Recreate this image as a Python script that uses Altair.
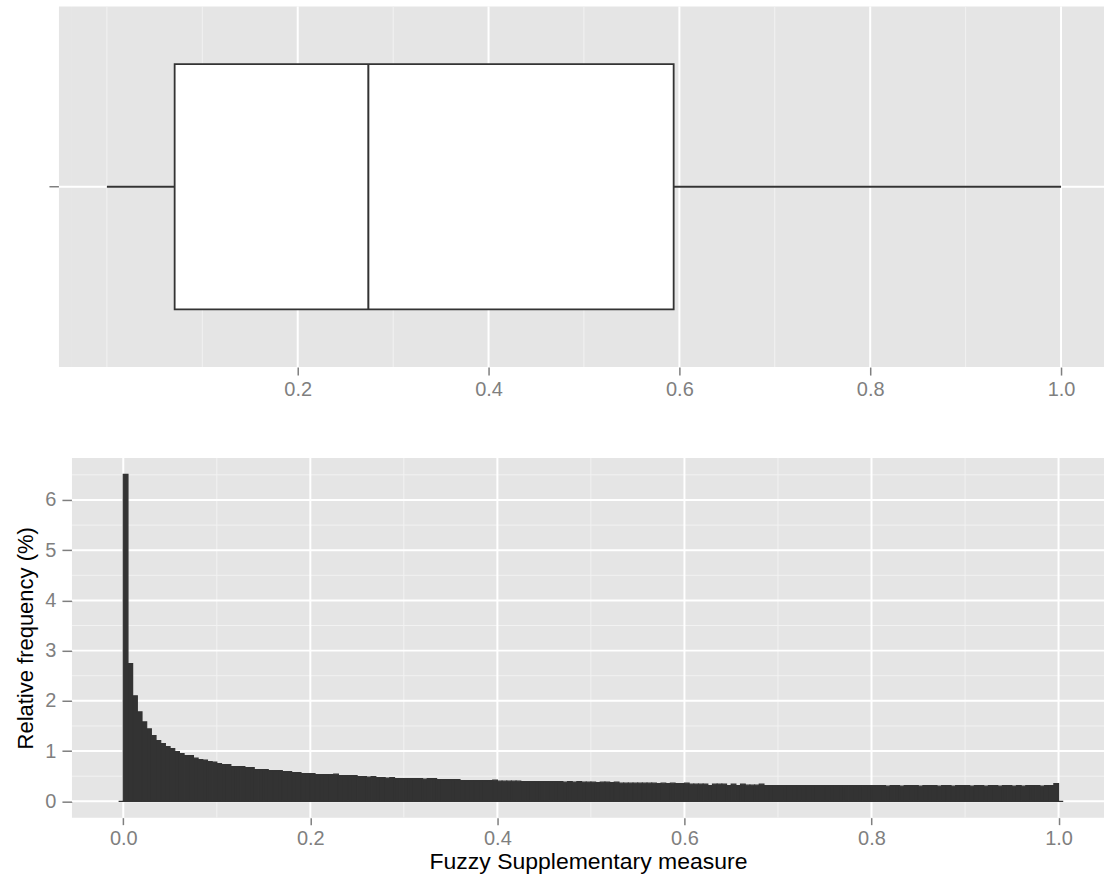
import altair as alt
import pandas as pd

# ---------------- data ----------------
bin_width = 0.005
rel_freq = [
    6.51, 2.74, 2.10, 1.78, 1.58, 1.44, 1.31, 1.21, 1.15, 1.09,
    1.05, 0.99, 0.95, 0.91, 0.91, 0.86, 0.83, 0.82, 0.79, 0.78,
    0.75, 0.73, 0.73, 0.69, 0.69, 0.69, 0.67, 0.67, 0.63, 0.63,
    0.63, 0.61, 0.61, 0.61, 0.59, 0.59, 0.57, 0.57, 0.55, 0.55,
    0.55, 0.53, 0.53, 0.53, 0.53, 0.54, 0.51, 0.51, 0.51, 0.51,
    0.49, 0.49, 0.48, 0.49, 0.47, 0.47, 0.46, 0.47, 0.45, 0.45,
    0.45, 0.45, 0.45, 0.45, 0.44, 0.45, 0.45, 0.43, 0.43, 0.43,
    0.43, 0.43, 0.41, 0.41, 0.41, 0.41, 0.41, 0.41, 0.41, 0.42,
    0.40, 0.40, 0.40, 0.40, 0.40, 0.39, 0.39, 0.39, 0.39, 0.39,
    0.39, 0.39, 0.39, 0.39, 0.38, 0.39, 0.38, 0.39, 0.38, 0.38,
    0.38, 0.37, 0.38, 0.38, 0.37, 0.38, 0.36, 0.36, 0.36, 0.36,
    0.36, 0.36, 0.36, 0.36, 0.35, 0.36, 0.35, 0.36, 0.35, 0.35,
    0.36, 0.34, 0.34, 0.34, 0.34, 0.31, 0.34, 0.34, 0.34, 0.31,
    0.34, 0.31, 0.34, 0.32, 0.32, 0.32, 0.34, 0.31, 0.31, 0.31,
    0.31, 0.31, 0.31, 0.31, 0.31, 0.31, 0.31, 0.31, 0.31, 0.31,
    0.31, 0.31, 0.31, 0.31, 0.31, 0.31, 0.31, 0.31, 0.31, 0.31,
    0.31, 0.31, 0.31, 0.30, 0.31, 0.31, 0.30, 0.31, 0.31, 0.31,
    0.30, 0.31, 0.31, 0.31, 0.30, 0.31, 0.31, 0.30, 0.31, 0.31,
    0.31, 0.30, 0.31, 0.31, 0.30, 0.31, 0.31, 0.30, 0.31, 0.31,
    0.30, 0.31, 0.30, 0.31, 0.31, 0.31, 0.30, 0.31, 0.31, 0.35,
]
# empty bins drawn by the histogram on either side of the data range
edge_bins = [-1, 200]

box_group = ["all"]
box_min = [0.0]
box_q1 = [0.071]
box_median = [0.274]
box_q3 = [0.594]
box_max = [1.0]

top_x_major = [0.2, 0.4, 0.6, 0.8, 1.0]
top_x_minor = [0.0, 0.1, 0.3, 0.5, 0.7, 0.9]
bot_x_major = [0.0, 0.2, 0.4, 0.6, 0.8, 1.0]
bot_x_minor = [0.1, 0.3, 0.5, 0.7, 0.9]
bot_y_major = [0, 1, 2, 3, 4, 5, 6]
bot_y_minor = [0.5, 1.5, 2.5, 3.5, 4.5, 5.5, 6.5]

x_title = "Fuzzy Supplementary measure"
y_title = "Relative frequency (%)"

# ---------------- style ----------------
BG = "#E5E5E5"
MINOR = "#F2F2F2"
MAJOR = "#FFFFFF"
DARK = "#333333"
TXT = "#7F7F7F"
FONT = "Liberation Sans"
W = 1033
TOP_H = 361
BOT_H = 360
LEFT_EXT = 13
LABEL_FS = 20

# ---------------- tables ----------------
idx = [edge_bins[0]] + list(range(len(rel_freq))) + [edge_bins[1]]
freq = [0.0] + rel_freq + [0.0]
hist_df = pd.DataFrame({
    "start": [i * bin_width for i in idx],
    "end": [(i + 1) * bin_width for i in idx],
    "freq": freq,
    "base": [0.0] * len(idx),
})
box_df = pd.DataFrame({
    "grp": box_group, "min": box_min, "q1": box_q1,
    "median": box_median, "q3": box_q3, "max": box_max,
})

# ---------------- top: boxplot ----------------
xs_t = alt.Scale(domain=[-0.03665, 1.04503], nice=False, zero=False)
ys_t = alt.Scale(type="band", domain=box_group, paddingOuter=0.235, paddingInner=0)

top_axis_x = alt.Axis(values=top_x_major, format=".1f", grid=False, domain=False,
                      tickSize=8, tickWidth=1.5, tickColor=TXT, labelColor=TXT,
                      labelFontSize=LABEL_FS, labelPadding=4, title=None)
top_axis_y = alt.Axis(labels=False, domain=False, ticks=True, tickSize=10, tickWidth=1.5,
                      tickColor=TXT, offset=LEFT_EXT, title=None, grid=False)

bg_ext = alt.Chart(box_df).mark_rect(color=BG).encode(
    x=alt.value(-LEFT_EXT), x2=alt.value(0), y=alt.value(0), y2=alt.value(TOP_H))
t_minor = alt.Chart(pd.DataFrame({"v": top_x_minor})).mark_rule(color=MINOR, strokeWidth=1).encode(
    x=alt.X("v:Q", scale=xs_t, axis=top_axis_x, title=None))
t_major = alt.Chart(pd.DataFrame({"v": top_x_major})).mark_rule(color=MAJOR, strokeWidth=2).encode(
    x=alt.X("v:Q", scale=xs_t, axis=top_axis_x, title=None))
t_hgrid = alt.Chart(box_df).mark_rule(color=MAJOR, strokeWidth=2).encode(
    y=alt.Y("grp:N", scale=ys_t, axis=top_axis_y, title=None),
    x=alt.value(-LEFT_EXT), x2=alt.value(W))
whisker = alt.Chart(box_df).mark_rule(color=DARK, strokeWidth=1.8).encode(
    x=alt.X("min:Q", scale=xs_t, axis=top_axis_x, title=None), x2="max:Q",
    y=alt.Y("grp:N", scale=ys_t, axis=top_axis_y, title=None))
box = alt.Chart(box_df).mark_bar(fill="white", stroke=DARK, strokeWidth=1.8).encode(
    x=alt.X("q1:Q", scale=xs_t, axis=top_axis_x, title=None), x2="q3:Q",
    y=alt.Y("grp:N", scale=ys_t, axis=top_axis_y, title=None))
median = alt.Chart(box_df).mark_bar(fill=DARK, stroke=DARK, strokeWidth=2).encode(
    x=alt.X("median:Q", scale=xs_t, axis=top_axis_x, title=None), x2="median:Q",
    y=alt.Y("grp:N", scale=ys_t, axis=top_axis_y, title=None))

top = alt.layer(bg_ext, t_minor, t_major, t_hgrid, whisker, box, median).properties(
    width=W, height=TOP_H)

# ---------------- bottom: histogram ----------------
xs_b = alt.Scale(domain=[-0.0549, 1.0486], nice=False, zero=False)
ys_b = alt.Scale(domain=[-0.326, 6.836], nice=False, zero=False)

bot_axis_x = alt.Axis(values=bot_x_major, format=".1f", grid=False, domain=False,
                      tickSize=7, tickWidth=1.5, tickColor=TXT, labelColor=TXT,
                      labelFontSize=LABEL_FS, labelPadding=4,
                      titleFontSize=23, titleFontWeight="normal", titleColor="black",
                      titlePadding=2)
bot_axis_y = alt.Axis(values=bot_y_major, format="d", grid=False, domain=False,
                      tickSize=10, tickWidth=1.5, tickColor=TXT, labelColor=TXT,
                      labelFontSize=LABEL_FS, labelPadding=6,
                      titleFontSize=22, titleFontWeight="normal", titleColor="black",
                      titlePadding=7)

b_minor_v = alt.Chart(pd.DataFrame({"v": bot_x_minor})).mark_rule(color=MINOR, strokeWidth=1).encode(
    x=alt.X("v:Q", scale=xs_b, axis=bot_axis_x, title=x_title))
b_minor_h = alt.Chart(pd.DataFrame({"v": bot_y_minor})).mark_rule(color=MINOR, strokeWidth=1).encode(
    y=alt.Y("v:Q", scale=ys_b, axis=bot_axis_y, title=y_title))
b_major_v = alt.Chart(pd.DataFrame({"v": bot_x_major})).mark_rule(color=MAJOR, strokeWidth=2).encode(
    x=alt.X("v:Q", scale=xs_b, axis=bot_axis_x, title=x_title))
b_major_h = alt.Chart(pd.DataFrame({"v": bot_y_major})).mark_rule(color=MAJOR, strokeWidth=2).encode(
    y=alt.Y("v:Q", scale=ys_b, axis=bot_axis_y, title=y_title))
bars = alt.Chart(hist_df).mark_rect(color=DARK, stroke=DARK, strokeWidth=1.2).encode(
    x=alt.X("start:Q", scale=xs_b, axis=bot_axis_x, title=x_title), x2="end:Q",
    y=alt.Y("freq:Q", scale=ys_b, axis=bot_axis_y, title=y_title), y2="base:Q")

bottom = alt.layer(b_minor_v, b_minor_h, b_major_v, b_major_h, bars).properties(
    width=W, height=BOT_H)

chart = alt.vconcat(top, bottom, spacing=58).properties(
    padding={"left": 14, "top": 5, "right": 0, "bottom": 0},
    background="white",
).configure_view(
    fill=BG, stroke=None
).configure_axis(
    labelFont=FONT, titleFont=FONT
)

chart.save("out.html", embed_options={"renderer": "svg", "actions": False})
